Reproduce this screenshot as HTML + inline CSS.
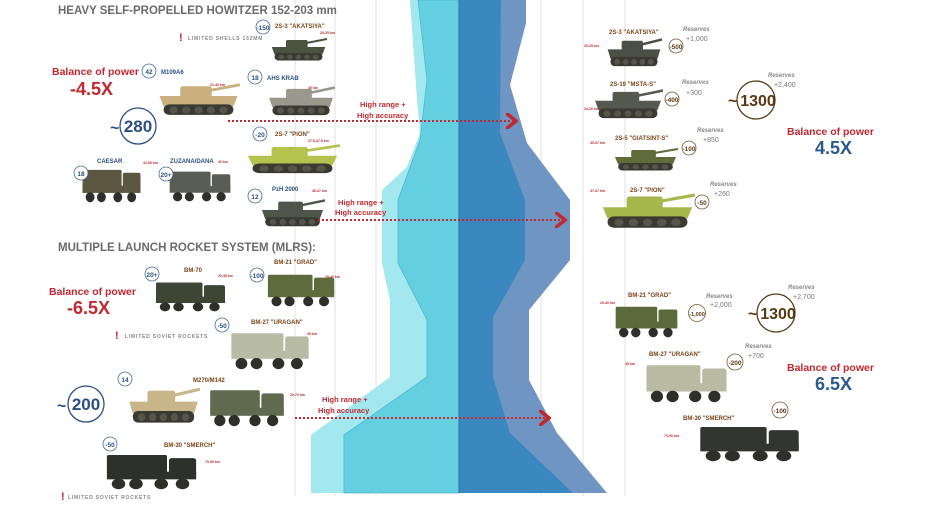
<!DOCTYPE html>
<html><head><meta charset="utf-8"><style>
html,body{margin:0;padding:0;background:#fff;}
svg{display:block;font-family:"Liberation Sans",sans-serif;}
.t{font-weight:bold;fill:#6b6b6b;font-size:11.5px}
.bp{font-weight:bold;fill:#c2282f;font-size:10.5px}
.bx{font-weight:bold;font-size:18px}
.lb{font-weight:bold;fill:#2b4f84;font-size:6px}
.lr{font-weight:bold;fill:#7a4518;font-size:6px}
.rg{fill:#c2282f;font-size:3.5px;font-weight:bold}
.rs{fill:#888;font-style:italic;font-weight:bold;font-size:6px}
.rv{fill:#777;font-size:7px}
.hr{fill:#c2282f;font-weight:bold;font-size:7.5px}
.lim{fill:#888;font-size:5px;letter-spacing:.8px;font-weight:bold}
</style></head><body>
<svg width="925" height="507" viewBox="0 0 925 507">
<defs>
<symbol id="tank" viewBox="0 0 100 50" preserveAspectRatio="none">
<line x1="55" y1="14" x2="100" y2="4" stroke="currentColor" stroke-width="4"/>
<rect x="28" y="6" width="38" height="16" rx="3" fill="currentColor"/>
<polygon points="3,20 97,20 92,35 8,35" fill="currentColor"/>
<rect x="8" y="32" width="84" height="15" rx="7" fill="#3a3a32"/>
<g fill="#55554a"><circle cx="20" cy="40" r="5"/><circle cx="35" cy="40" r="5"/><circle cx="50" cy="40" r="5"/><circle cx="65" cy="40" r="5"/><circle cx="80" cy="40" r="5"/></g>
</symbol>
<symbol id="truck" viewBox="0 0 100 50" preserveAspectRatio="none">
<rect x="68" y="8" width="28" height="27" rx="3" fill="currentColor"/>
<rect x="4" y="4" width="62" height="24" rx="2" fill="currentColor"/>
<rect x="4" y="26" width="92" height="10" fill="currentColor"/>
<g fill="#2e2e2a"><circle cx="16" cy="42" r="7"/><circle cx="34" cy="42" r="7"/><circle cx="60" cy="42" r="7"/><circle cx="82" cy="42" r="7"/></g>
</symbol>
<marker id="ar" markerWidth="6" markerHeight="8" refX="4" refY="4" orient="auto"><path d="M0,0 L5,4 L0,8" fill="none" stroke="#c2282f" stroke-width="1.8"/></marker>
</defs>

<g stroke="#e2e2e2" stroke-width="1">
<line x1="295" y1="0" x2="295" y2="496"/><line x1="335" y1="0" x2="335" y2="496"/><line x1="376" y1="0" x2="376" y2="496"/>
<line x1="541" y1="0" x2="541" y2="496"/><line x1="583" y1="0" x2="583" y2="496"/><line x1="625" y1="0" x2="625" y2="496"/>
</g>

<!-- band -->
<polygon fill="#a3e7ef" points="410,0 459,0 459,493 311,493 311,435 390,377 390,300 382,263 382,190 407,167 420,133 417,100"/>
<polygon fill="#63cfe1" stroke="#4bb8cf" stroke-width="0.8" points="418,0 459,0 459,493 344,493 344,435 427,377 427,320 398,263 398,200 420,140 427,80"/>
<polygon fill="#6f96c2" points="459,0 526,0 526,23 510,85 527,143 570,200 570,260 529,310 529,380 557,433 607,493 459,493"/>
<polygon fill="#3b88c1" points="459,0 501,0 500,133 525,200 525,260 493,317 493,377 510,433 573,493 459,493"/>
<line x1="459" y1="0" x2="459" y2="493" stroke="#2f74a8" stroke-width="1"/>

<!-- vehicles (drawn first) -->
<use href="#tank" x="270" y="37" width="57" height="25" style="color:#4c5240"/>
<use href="#tank" x="157" y="82" width="83" height="35" style="color:#c9b07e"/>
<use href="#tank" x="267" y="85" width="68" height="32" style="color:#9a978c"/>
<use href="#tank" x="245" y="143" width="95" height="32" style="color:#b4c24e"/>
<use href="#truck" x="80" y="167" width="63" height="36" style="color:#5c5741"/>
<use href="#truck" x="167" y="169" width="66" height="33" style="color:#5a5d55"/>
<use href="#tank" x="260" y="198" width="65" height="30" style="color:#4f5548"/>
<use href="#truck" x="153" y="280" width="75" height="32" style="color:#3d4634"/>
<use href="#truck" x="265" y="272" width="72" height="35" style="color:#5e6b3c"/>
<use href="#truck" x="228" y="330" width="84" height="40" style="color:#b8bca4"/>
<use href="#tank" x="127" y="386" width="73" height="39" style="color:#c8b68a"/>
<use href="#truck" x="207" y="387" width="80" height="40" style="color:#5f6a4e"/>
<use href="#truck" x="103" y="452" width="97" height="38" style="color:#2e302c"/>
<use href="#tank" x="606" y="37" width="56" height="31" style="color:#4b4f44"/>
<use href="#tank" x="593" y="88" width="70" height="32" style="color:#55594e"/>
<use href="#tank" x="613" y="147" width="65" height="25" style="color:#5f6c3a"/>
<use href="#tank" x="600" y="192" width="95" height="38" style="color:#a6b84c"/>
<use href="#truck" x="613" y="304" width="67" height="34" style="color:#5a6a3a"/>
<use href="#truck" x="643" y="362" width="87" height="41" style="color:#b9bba3"/>
<use href="#truck" x="696" y="424" width="107" height="38" style="color:#323530"/>

<!-- titles -->
<text x="58" y="14" class="t">HEAVY SELF-PROPELLED HOWITZER 152-203 mm</text>
<text x="58" y="251" class="t">MULTIPLE LAUNCH ROCKET SYSTEM (MLRS):</text>

<text x="179" y="41" fill="#c2282f" font-weight="bold" font-size="11">!</text>
<text x="188" y="40" class="lim">LIMITED SHELLS 152MM</text>
<text x="115" y="339" fill="#c2282f" font-weight="bold" font-size="11">!</text>
<text x="125" y="338" class="lim">LIMITED SOVIET ROCKETS</text>
<text x="61" y="500" fill="#c2282f" font-weight="bold" font-size="11">!</text>
<text x="68" y="499" class="lim">LIMITED SOVIET ROCKETS</text>

<text x="52" y="75" class="bp">Balance of power</text>
<text x="70" y="95" class="bx" fill="#c2282f">-4.5X</text>
<text x="49" y="295" class="bp">Balance of power</text>
<text x="67" y="314" class="bx" fill="#c2282f">-6.5X</text>

<g fill="none" stroke="#2b4f84" stroke-width="1.3">
<circle cx="138" cy="126" r="18"/><circle cx="86" cy="404" r="18"/>
</g>
<text x="110" y="133" font-size="16" font-weight="bold" fill="#2b4f84">~</text>
<text x="138" y="132" text-anchor="middle" font-size="17" font-weight="bold" fill="#2b4f84">280</text>
<text x="57" y="411" font-size="16" font-weight="bold" fill="#2b4f84">~</text>
<text x="86" y="410" text-anchor="middle" font-size="17" font-weight="bold" fill="#2b4f84">200</text>

<g fill="#fff" stroke="#4a6b9a" stroke-width="0.8">
<circle cx="263" cy="27" r="7"/><circle cx="149" cy="71" r="7"/><circle cx="255" cy="77" r="7"/><circle cx="260" cy="134" r="7"/>
<circle cx="81" cy="173" r="7"/><circle cx="166" cy="174" r="7"/><circle cx="255" cy="196" r="7"/>
<circle cx="152" cy="274" r="7"/><circle cx="257" cy="275" r="7"/><circle cx="222" cy="325" r="7"/><circle cx="125" cy="379" r="7"/><circle cx="110" cy="444" r="7"/>
</g>
<g font-size="6.5" font-weight="bold" fill="#2b4f84" text-anchor="middle">
<text x="263" y="30">-150</text><text x="149" y="74">42</text><text x="255" y="80">18</text><text x="260" y="137">-20</text>
<text x="81" y="176">18</text><text x="166" y="177">20+</text><text x="255" y="199">12</text>
<text x="152" y="277">20+</text><text x="257" y="278">-100</text><text x="222" y="328">-50</text><text x="125" y="382">14</text><text x="110" y="447">-50</text>
</g>

<text x="275" y="28" class="lr">2S-3 "AKATSIYA"</text><text x="320" y="34" class="rg">20-25 km</text>
<text x="161" y="74" class="lb">M109A6</text><text x="210" y="86" class="rg">21-40 km</text>
<text x="267" y="80" class="lb">AHS KRAB</text><text x="308" y="89" class="rg">30 km</text>
<text x="275" y="136" class="lr">2S-7 "PION"</text><text x="308" y="142" class="rg">37.5-47.5 km</text>
<text x="97" y="163" class="lb">CAESAR</text><text x="143" y="164" class="rg">42-50 km</text>
<text x="170" y="163" class="lb">ZUZANA/DANA</text><text x="218" y="163" class="rg">40 km</text>
<text x="272" y="191" class="lb">PzH 2000</text><text x="312" y="192" class="rg">36-47 km</text>
<text x="184" y="272" class="lr">BM-70</text><text x="218" y="277" class="rg">20-36 km</text>
<text x="274" y="264" class="lr">BM-21 "GRAD"</text><text x="325" y="278" class="rg">20-40 km</text>
<text x="251" y="324" class="lr">BM-27 "URAGAN"</text><text x="307" y="335" class="rg">35 km</text>
<text x="193" y="382" class="lr">M270/M142</text><text x="290" y="396" class="rg">20-70 km</text>
<text x="164" y="447" class="lr">BM-30 "SMERCH"</text><text x="205" y="463" class="rg">70-90 km</text>

<g stroke="#c2282f" stroke-width="2" stroke-dasharray="2,2" marker-end="url(#ar)">
<line x1="228" y1="121" x2="514" y2="121"/>
<line x1="318" y1="220" x2="563" y2="220"/>
<line x1="295" y1="418" x2="547" y2="418"/>
</g>
<text x="360" y="107" class="hr">High range +</text><text x="357" y="118" class="hr">High accuracy</text>
<text x="338" y="205" class="hr">High range +</text><text x="335" y="215" class="hr">High accuracy</text>
<text x="322" y="402" class="hr">High range +</text><text x="318" y="413" class="hr">High accuracy</text>

<g fill="#fff" stroke="#7a5a30" stroke-width="0.8">
<circle cx="676" cy="46" r="7"/><circle cx="672" cy="99" r="7"/><circle cx="689" cy="148" r="7"/><circle cx="702" cy="202" r="7"/>
<circle cx="697" cy="313" r="8.5"/><circle cx="735" cy="362" r="8"/><circle cx="780" cy="410" r="8"/>
</g>
<g fill="#fff" stroke="#5a3a14" stroke-width="1.3"><circle cx="756" cy="100" r="19"/><circle cx="776" cy="313" r="19"/></g>
<g font-size="6.5" font-weight="bold" fill="#5a3a14" text-anchor="middle">
<text x="676" y="49">-500</text><text x="672" y="102">-400</text><text x="689" y="151">-100</text><text x="702" y="205">-50</text>
<text x="697" y="316" font-size="5.5">-1,000</text><text x="735" y="365">-200</text><text x="780" y="413">-100</text>
</g>
<text x="728" y="106" font-size="16" font-weight="bold" fill="#5a3a14">~</text>
<text x="758" y="106" text-anchor="middle" font-size="16" font-weight="bold" fill="#5a3a14">1300</text>
<text x="748" y="319" font-size="16" font-weight="bold" fill="#5a3a14">~</text>
<text x="778" y="319" text-anchor="middle" font-size="16" font-weight="bold" fill="#5a3a14">1300</text>

<text x="609" y="34" class="lr">2S-3 "AKATSIYA"</text><text x="584" y="47" class="rg">20-25 km</text>
<text x="683" y="31" class="rs">Reserves</text><text x="686" y="41" class="rv">+1,000</text>
<text x="610" y="86" class="lr">2S-19 "MSTA-S"</text><text x="584" y="110" class="rg">24-30 km</text>
<text x="682" y="84" class="rs">Reserves</text><text x="686" y="95" class="rv">+300</text>
<text x="768" y="77" class="rs" font-size="8">Reserves</text><text x="774" y="87" class="rv" font-size="8">+2,400</text>
<text x="615" y="140" class="lr">2S-5 "GIATSINT-S"</text><text x="590" y="144" class="rg">30-37 km</text>
<text x="697" y="132" class="rs">Reserves</text><text x="703" y="142" class="rv">+850</text>
<text x="630" y="192" class="lr">2S-7 "PION"</text><text x="590" y="192" class="rg">37-47 km</text>
<text x="710" y="186" class="rs">Reserves</text><text x="714" y="196" class="rv">+260</text>
<text x="787" y="135" class="bp">Balance of power</text>
<text x="815" y="154" class="bx" fill="#2b5a8c">4.5X</text>

<text x="628" y="297" class="lr">BM-21 "GRAD"</text><text x="600" y="304" class="rg">20-40 km</text>
<text x="706" y="298" class="rs">Reserves</text><text x="710" y="307" class="rv">+2,000</text>
<text x="788" y="289" class="rs" font-size="8">Reserves</text><text x="793" y="299" class="rv" font-size="8">+2,700</text>
<text x="649" y="356" class="lr">BM-27 "URAGAN"</text><text x="625" y="365" class="rg">35 km</text>
<text x="745" y="348" class="rs">Reserves</text><text x="748" y="358" class="rv">+700</text>
<text x="683" y="420" class="lr">BM-30 "SMERCH"</text><text x="664" y="437" class="rg">70-90 km</text>
<text x="787" y="371" class="bp">Balance of power</text>
<text x="815" y="390" class="bx" fill="#2b5a8c">6.5X</text>
</svg>
</body></html>
